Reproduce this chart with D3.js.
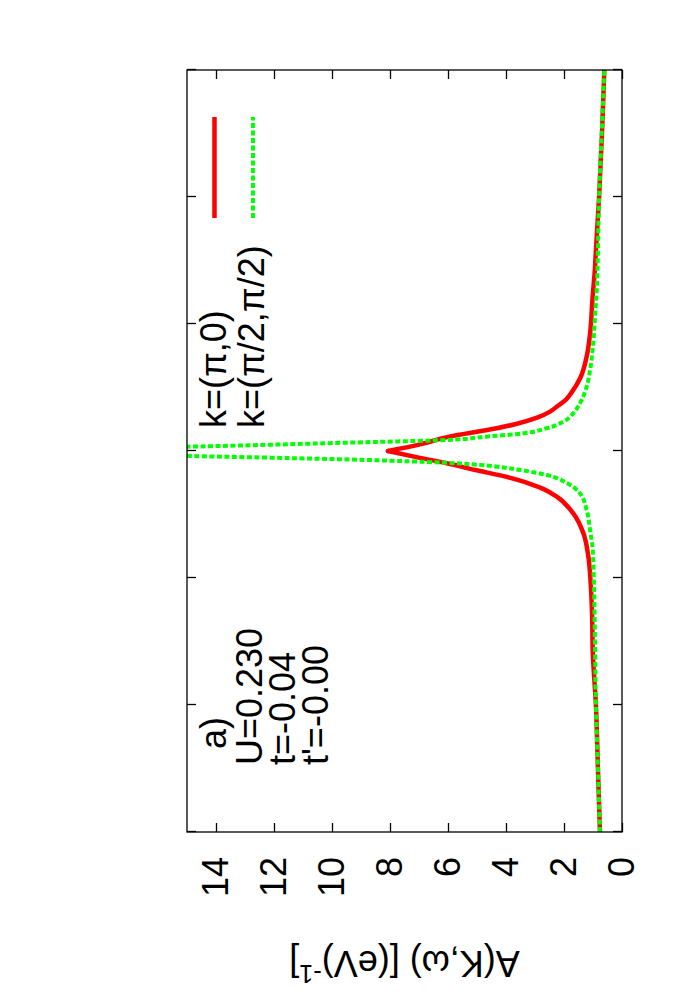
<!DOCTYPE html>
<html><head><meta charset="utf-8">
<script src="https://cdn.jsdelivr.net/npm/d3@7"></script>
<style>body{margin:0;background:#fff}</style>
</head><body>
<svg id="chart" width="700" height="1000"></svg>
<script>
const omegaTicks = [-3,-2,-1,0,1,2,3];
const aTicks = [0,2,4,6,8,10,12,14];
const aTickLabels = ["0","2","4","6","8","10","12","14"];
const seriesNames = ["k=(\u03c0,0)","k=(\u03c0/2,\u03c0/2)"];
const seriesColors = ["#ff0000","#00ff00"];
const omegaRed = [-3.0,-2.5,-2.0,-1.57,-1.30,-1.04,-0.832,-0.648,-0.491,-0.36,-0.30,-0.26,-0.228,-0.20,-0.15,-0.097,-0.05,0,0.05,0.113,0.165,0.213,0.26,0.31,0.354,0.40,0.454,0.585,0.742,0.927,1.19,1.45,1.58,2.0,2.5,3.0];
const aRed = [0.76,0.83,0.90,1.01,1.03,1.08,1.16,1.33,1.68,2.25,2.70,3.15,3.60,4.05,5.05,6.04,7.05,8.07,7.0,5.95,4.65,3.65,2.95,2.48,2.22,1.95,1.76,1.42,1.22,1.10,1.02,0.93,0.90,0.79,0.69,0.61];
const omegaGreen = [-3.0,-2.5,-2.0,-1.54,-1.04,-0.78,-0.622,-0.464,-0.333,-0.252,-0.189,-0.15,-0.110,-0.097,-0.076,-0.063,-0.039,-0.02,0,0.02,0.034,0.062,0.072,0.087,0.113,0.134,0.179,0.231,0.297,0.375,0.506,0.638,0.76,1.06,1.32,1.58,2.0,2.5,3.0];
const aGreen = [0.76,0.83,0.90,0.93,0.97,1.01,1.10,1.22,1.45,1.90,2.60,3.50,4.90,5.70,8.00,10.07,15.0,18.5,20.5,18.5,15.0,10.07,8.34,6.04,4.70,3.60,2.60,2.02,1.68,1.45,1.22,1.10,1.03,0.93,0.86,0.83,0.79,0.70,0.61];
const panelLabel = "a)";
const paramLines = ["U=0.230","t=-0.04","t'=-0.00"];

const W = 762, H = 435;
const FONT = "'Liberation Sans', Arial, Helvetica, sans-serif";
const FS = 36;

const svg = d3.select("#chart");
svg.append("rect").attr("width",700).attr("height",1000).attr("fill","#fff");
// plot drawn in landscape orientation, then rotated like the reference
const g = svg.append("g").attr("transform","translate(187,832) rotate(-90)")
  .style("font-family",FONT);

const x = d3.scaleLinear().domain([-3,3]).range([0,W]);
const y = d3.scaleLinear().domain([0,15]).range([H,0]);

g.append("defs").append("clipPath").attr("id","clip")
  .append("rect").attr("x",0).attr("y",0).attr("width",W).attr("height",H);

function styleAxis(sel){
  sel.select(".domain").remove();
  sel.selectAll(".tick line").attr("stroke","#000").attr("stroke-width",1.3);
  sel.selectAll(".tick text").attr("font-size",FS).attr("font-family",FONT).attr("fill","#000");
}
g.append("g").call(d3.axisLeft(y).tickValues(aTicks).tickSize(-9).tickPadding(25)
  .tickFormat((d,i)=>aTickLabels[i])).call(styleAxis);
g.append("g").attr("transform",`translate(${W},0)`)
  .call(d3.axisRight(y).tickValues(aTicks).tickSize(-9).tickFormat("")).call(styleAxis);
g.append("g").attr("transform",`translate(0,${H})`)
  .call(d3.axisBottom(x).tickValues(omegaTicks).tickSize(-9).tickFormat("")).call(styleAxis);
g.append("g")
  .call(d3.axisTop(x).tickValues(omegaTicks).tickSize(-9).tickFormat("")).call(styleAxis);

const red = omegaRed.map((w,i)=>[w,aRed[i]]);
const green = omegaGreen.map((w,i)=>[w,aGreen[i]]);
const line = d3.line().x(d=>x(d[0])).y(d=>y(d[1])).curve(d3.curveMonotoneX);
const curves = g.append("g").attr("clip-path","url(#clip)");
// red: sharp cusp at its maximum, smooth on each side
const iPk = aRed.indexOf(d3.max(aRed));
[red.slice(0,iPk+1), red.slice(iPk)].forEach(part=>{
  curves.append("path").datum(part).attr("d",line).attr("fill","none")
    .attr("stroke",seriesColors[0]).attr("stroke-width",4.5).attr("stroke-linecap","round");
});
curves.append("path").datum(green).attr("d",line).attr("fill","none")
  .attr("stroke",seriesColors[1]).attr("stroke-width",4).attr("stroke-dasharray","5,2.5");

g.append("rect").attr("x",0).attr("y",0).attr("width",W).attr("height",H)
  .attr("fill","none").attr("stroke","#000").attr("stroke-width",1.3);

// legend
const legY = [27.5, 66];
seriesNames.forEach((n,i)=>{
  g.append("text").attr("x",404).attr("y",legY[i]+11).attr("font-size",FS).text(n);
  const l = g.append("line").attr("x1",614).attr("x2",715).attr("y1",legY[i]).attr("y2",legY[i])
    .attr("stroke",seriesColors[i]).attr("stroke-width",i?4:4.5);
  if(i) l.attr("stroke-dasharray","5,2.5");
});

// annotations
g.append("text").attr("x",83).attr("y",39).attr("font-size",FS).text(panelLabel);
paramLines.forEach((t,i)=>{
  g.append("text").attr("x",67).attr("y",75+33*i).attr("font-size",FS).text(t);
});

// y label
const yl = g.append("text").attr("transform",`translate(-119,${H/2}) rotate(-90)`)
  .attr("text-anchor","middle").attr("font-size",FS);
yl.append("tspan").text("A(K,\u03c9) [(eV)");
yl.append("tspan").attr("font-size",FS*0.7).attr("dy",-FS*0.4).text("-1");
yl.append("tspan").attr("dy",FS*0.4).text("]");
</script>
</body></html>
